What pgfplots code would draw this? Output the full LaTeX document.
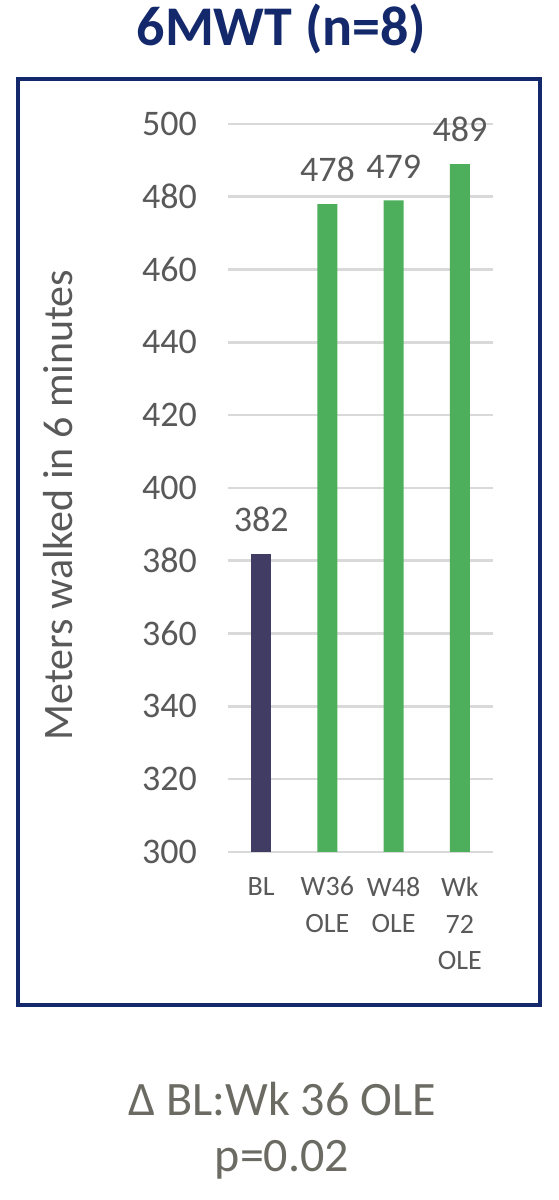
\documentclass[border=0pt]{standalone}
\usepackage{pgfplots}
\pgfplotsset{compat=1.18}
\usepackage{fontspec}
\setmainfont{Carlito}
\definecolor{navy}{HTML}{14296B}
\definecolor{barblue}{HTML}{403C64}
\definecolor{bargreen}{HTML}{4DAF5B}
\definecolor{txt}{HTML}{595959}
\definecolor{gridc}{HTML}{D9D9D9}
\definecolor{foot}{HTML}{6B6B63}
\begin{document}
\begin{tikzpicture}
\useasboundingbox (0,0) rectangle (279pt,600pt);
\draw[navy, line width=2pt] (9pt,97.5pt) rectangle (270pt,560.5pt);
\node[anchor=base, font=\fontsize{28}{34}\selectfont\bfseries, text=navy, inner sep=0pt] at (140.75pt,577pt) {6MWT (n=8)};
\node[anchor=base, font=\fontsize{24}{29}\selectfont, text=foot, inner sep=0pt] at (141pt,42pt) {Δ BL:Wk 36 OLE};
\node[anchor=base, font=\fontsize{24}{29}\selectfont, text=foot, inner sep=0pt] at (141pt,14pt) {p=0.02};
\begin{axis}[
  at={(114pt,174pt)}, anchor=south west,
  scale only axis, width=132.5pt, height=364pt,
  xmin=-0.5, xmax=3.5, ymin=300, ymax=500,
  ytick={300,320,...,500},
  xtick={0,1,2,3},
  xticklabels={BL,W36\\OLE,W48\\OLE,Wk\\72\\OLE},
  xticklabel style={align=center, font=\fontsize{14}{18.25}\selectfont, text=txt, yshift=-9pt},
  yticklabel style={font=\fontsize{18}{22}\selectfont, text=txt, xshift=-12pt},
  /pgf/number format/assume math mode=true,
  major tick length=0pt,
  axis line style={draw=none},
  ymajorgrids,
  major grid style={draw=gridc, line width=1.3pt},
  ylabel={Meters walked in 6 minutes},
  every axis y label/.style={at={(axis description cs:-0.6415,0.4766)}, rotate=90, anchor=center, font=\fontsize{21}{25}\selectfont, text=txt},
  ybar, bar width=10pt,
  nodes near coords,
  every node near coord/.append style={font=\fontsize{18}{22}\selectfont, text=txt, yshift=7.5pt},
  clip=false,
]
\addplot[ybar, bar shift=0pt, fill=barblue, draw=none] coordinates {(0,382)};
\addplot[ybar, bar shift=0pt, fill=bargreen, draw=none] coordinates {(1,478) (2,479) (3,489)};
\end{axis}
\end{tikzpicture}
\end{document}
